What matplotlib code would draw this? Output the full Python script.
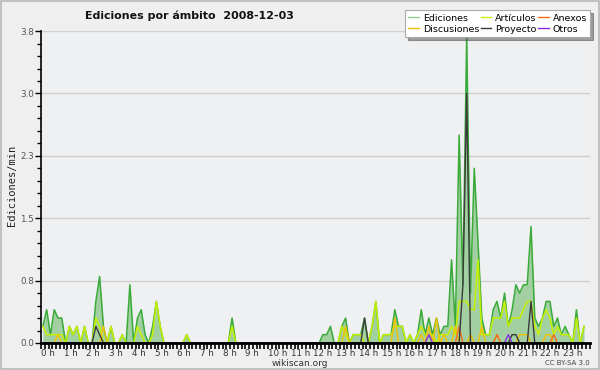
import numpy as np
import matplotlib
matplotlib.use("Agg")
from matplotlib import pyplot as plt
from matplotlib.patches import Rectangle

# edits/min, one value per 10 minutes (144 slots)
ediciones = [0.2, 0.4, 0.1, 0.4, 0.3, 0.3, 0.0, 0.2, 0.1, 0.2, 0.0, 0.2,
             0.0, 0.0, 0.5, 0.8, 0.2, 0.0, 0.2, 0.0, 0.0, 0.1, 0.0, 0.7,
             0.0, 0.3, 0.4, 0.1, 0.0, 0.2, 0.5, 0.2, 0.0, 0.0, 0.0, 0.0,
             0.0, 0.0, 0.1, 0.0, 0.0, 0.0, 0.0, 0.0, 0.0, 0.0, 0.0, 0.0,
             0.0, 0.0, 0.3, 0.0, 0.0, 0.0, 0.0, 0.0, 0.0, 0.0, 0.0, 0.0,
             0.0, 0.0, 0.0, 0.0, 0.0, 0.0, 0.0, 0.0, 0.0, 0.0, 0.0, 0.0,
             0.0, 0.0, 0.1, 0.1, 0.2, 0.0, 0.0, 0.2, 0.3, 0.0, 0.1, 0.1,
             0.1, 0.3, 0.0, 0.2, 0.5, 0.0, 0.1, 0.1, 0.1, 0.4, 0.2, 0.2,
             0.0, 0.1, 0.0, 0.1, 0.4, 0.1, 0.3, 0.1, 0.3, 0.1, 0.2, 0.2,
             1.0, 0.2, 2.5, 0.7, 3.7, 0.6, 2.1, 1.2, 0.3, 0.1, 0.1, 0.4,
             0.5, 0.3, 0.6, 0.2, 0.4, 0.7, 0.6, 0.7, 0.7, 1.4, 0.3, 0.2,
             0.3, 0.5, 0.5, 0.2, 0.3, 0.1, 0.2, 0.1, 0.0, 0.4, 0.0, 0.2]

articulos = [0.2, 0.1, 0.1, 0.1, 0.1, 0.1, 0.0, 0.2, 0.1, 0.2, 0.0, 0.2,
             0.0, 0.0, 0.3, 0.2, 0.0, 0.0, 0.2, 0.0, 0.0, 0.1, 0.0, 0.0,
             0.0, 0.2, 0.1, 0.0, 0.0, 0.1, 0.5, 0.2, 0.0, 0.0, 0.0, 0.0,
             0.0, 0.0, 0.1, 0.0, 0.0, 0.0, 0.0, 0.0, 0.0, 0.0, 0.0, 0.0,
             0.0, 0.0, 0.2, 0.0, 0.0, 0.0, 0.0, 0.0, 0.0, 0.0, 0.0, 0.0,
             0.0, 0.0, 0.0, 0.0, 0.0, 0.0, 0.0, 0.0, 0.0, 0.0, 0.0, 0.0,
             0.0, 0.0, 0.0, 0.0, 0.0, 0.0, 0.0, 0.2, 0.1, 0.0, 0.1, 0.1,
             0.1, 0.0, 0.0, 0.2, 0.5, 0.0, 0.1, 0.1, 0.1, 0.2, 0.2, 0.2,
             0.0, 0.1, 0.0, 0.1, 0.2, 0.1, 0.1, 0.1, 0.0, 0.1, 0.1, 0.1,
             0.2, 0.1, 0.5, 0.5, 0.5, 0.4, 0.4, 1.0, 0.1, 0.1, 0.1, 0.3,
             0.3, 0.3, 0.5, 0.2, 0.3, 0.3, 0.3, 0.4, 0.5, 0.5, 0.2, 0.1,
             0.3, 0.4, 0.3, 0.1, 0.2, 0.1, 0.1, 0.1, 0.0, 0.3, 0.0, 0.2]

# sparse series: {slot: value}
discusiones_pts = {4: 0.1, 16: 0.2, 80: 0.2, 93: 0.3, 100: 0.1, 102: 0.2,
                   104: 0.3, 106: 0.1, 109: 0.2, 113: 0.1, 116: 0.2,
                   120: 0.1, 126: 0.1, 127: 0.1, 128: 0.1, 133: 0.1, 134: 0.1}
anexos_pts = {110: 0.2, 120: 0.1, 135: 0.1}
proyecto_pts = {14: 0.2, 15: 0.1, 85: 0.3, 111: 0.7, 112: 3.0,
                124: 0.1, 125: 0.1, 129: 0.5}
otros_pts = {102: 0.1, 123: 0.1}

ytick_vals = [0.0, 0.75, 1.5, 2.25, 3.0, 3.75]
ytick_labels = ["0.0", "0.8", "1.5", "2.3", "3.0", "3.8"]
hour_labels = ["%d h" % h for h in range(24)]


def expand(pts, n=144):
    out = np.zeros(n)
    for k, v in pts.items():
        out[k] = v
    return out


t = (np.arange(144) + 0.5) / 6.0
discusiones = expand(discusiones_pts)
anexos = expand(anexos_pts)
proyecto = expand(proyecto_pts)
otros = expand(otros_pts)

bg = "#efefef"
fig = plt.figure(figsize=(6, 3.7), dpi=100, facecolor=bg)
fig.patches.append(Rectangle((0.001, 0.002), 0.997, 0.995, transform=fig.transFigure,
                             fill=False, edgecolor="#b8b8b8", lw=1.2))
ax = fig.add_axes([0.0683, 0.073, 0.915, 0.843], facecolor="#eff0f1")

for v in ytick_vals[1:]:
    ax.axhline(v, color="#cfcfcf", lw=1, zorder=0)

ax.fill_between(t, ediciones, 0, color="#a2d0a2", lw=0, zorder=1)
l_ed, = ax.plot(t, ediciones, color="#3aaa3a", lw=1.1, zorder=2)
l_ar, = ax.plot(t, articulos, color="#c6f000", lw=1.1, zorder=3)
l_di, = ax.plot(t, discusiones, color="#f2c200", lw=1.0, zorder=4)
l_an, = ax.plot(t, anexos, color="#f26a22", lw=1.0, zorder=4)
l_pr, = ax.plot(t, proyecto, color="#3a3a3a", lw=1.0, zorder=5)
l_ot, = ax.plot(t, otros, color="#8a2be2", lw=1.0, zorder=5)

ax.set_xlim(0, 24.18)
ax.set_ylim(0, 3.75)
ax.set_yticks(ytick_vals)
ax.set_yticklabels(ytick_labels)
ax.set_yticks(np.arange(0, 3.76, 0.15), minor=True)
ax.set_xticks(range(24))
ax.set_xticklabels(hour_labels)
ax.set_xticks(np.arange(0, 24.2, 1 / 6.0), minor=True)
for lab in ax.get_xticklabels():
    lab.set_horizontalalignment("left")

ax.tick_params(axis="x", which="both", direction="out", length=4, width=1.2,
               color="black", labelsize=6.3, pad=0.5, labelcolor="#333333")
ax.tick_params(axis="y", which="major", direction="out", length=4, width=1,
               labelsize=6.3, pad=1, labelcolor="#555555")
ax.tick_params(axis="y", which="minor", direction="out", length=3, width=1)

for s in ["top", "right"]:
    ax.spines[s].set_visible(False)
ax.spines["left"].set_linewidth(1.2)
ax.spines["bottom"].set_linewidth(2.0)
ax.spines["bottom"].set_zorder(10)
ax.spines["left"].set_zorder(10)

fig.text(0.142, 0.958, "Ediciones por ámbito  2008-12-03", fontsize=7.9,
         fontweight="bold", ha="left", va="center", color="#111111")
fig.text(0.02, 0.5, "Ediciones/min", rotation=90, fontsize=7.5,
         family="DejaVu Sans Mono", va="center", ha="center", color="#222222")
fig.text(0.5, 0.018, "wikiscan.org", fontsize=6.5, ha="center", va="center",
         color="#333333")
fig.text(0.983, 0.018, "CC BY-SA 3.0", fontsize=5, ha="right", va="center",
         color="#444444")

names = ["Ediciones", "Discusiones", "Artículos", "Proyecto", "Anexos", "Otros"]
leg_handles = [plt.Line2D([], [], color=c, lw=1) for c in
               ["#8fd08f", "#f2c200", "#c6f000", "#3a3a3a", "#f26a22", "#8a2be2"]]
leg = fig.legend(leg_handles, names, ncol=3, loc="upper right",
                 bbox_to_anchor=(0.987, 0.977), fontsize=6.8, frameon=True,
                 fancybox=False, shadow=True, handlelength=1.1,
                 handletextpad=0.4, columnspacing=0.2, labelspacing=0.2,
                 borderpad=0.35, borderaxespad=0.2)
leg.get_frame().set_edgecolor("#aaaaaa")
leg.get_frame().set_facecolor("white")
leg.get_frame().set_linewidth(0.8)

fig.savefig("out.png", dpi=100, facecolor=bg)
